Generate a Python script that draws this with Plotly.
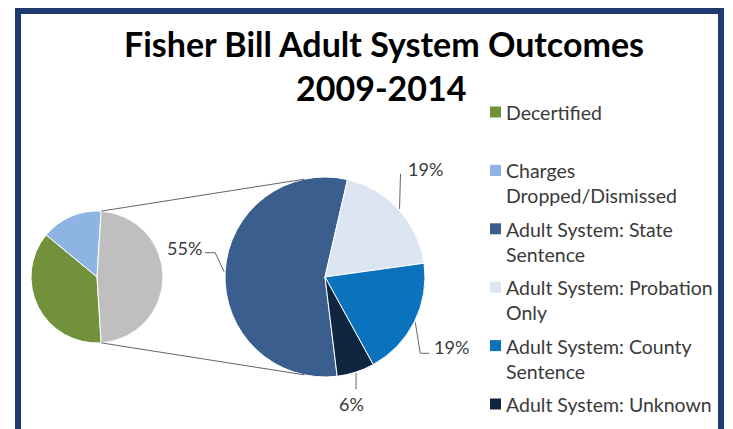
import math
import plotly.graph_objects as go

W, H = 733, 429

# Overall outcomes; the "Adult System" share is broken out in the second pie
primary_labels = ["Decertified", "Charges Dropped/Dismissed", "Adult System"]
primary_values = [37, 15, 48]
primary_colors = ["#71913A", "#8DB4E2", "#BFBFBF"]

# Breakdown of adult-system outcomes (percent)
adult_labels = ["Adult System: State Sentence", "Adult System: Probation Only",
                "Adult System: County Sentence", "Adult System: Unknown"]
adult_values = [55, 19, 19, 6]
adult_colors = ["#3A5F8F", "#DCE6F2", "#0B72BE", "#10253F"]

# Legend entries (wrapped as displayed) and their swatch colours
legend_texts = ["Decertified", "Charges<br>Dropped/Dismissed",
                "Adult System: State<br>Sentence", "Adult System: Probation<br>Only",
                "Adult System: County<br>Sentence", "Adult System: Unknown"]
legend_colors = primary_colors[:2] + adult_colors

title_lines = ["Fisher Bill Adult System Outcomes", "2009-2014"]

FONT = "Lato"
TEXT_GREY = "#3A3A3A"
LINE_GREY = "#666666"
NAVY = "#1F3A6E"


def px(x):
    return x / W


def py(y):
    return 1 - y / H


def domain(cx, cy, r):
    return dict(x=[px(cx - r), px(cx + r)], y=[py(cy + r), py(cy - r)])


def polar(cx, cy, r, deg):
    a = math.radians(deg)
    return cx + r * math.sin(a), cy - r * math.cos(a)


# pie placement (pixels)
C1, R1 = (97, 277), 66
C2, R2 = (325, 277), 100

# the aggregated slice is centred on 3 o'clock
other_span = 360 * primary_values[-1] / sum(primary_values)
primary_rotation = 90 + other_span / 2
adult_rotation = 173

fig = go.Figure()
fig.add_trace(go.Pie(
    labels=primary_labels, values=primary_values, sort=False,
    direction="clockwise", rotation=primary_rotation,
    marker=dict(colors=primary_colors, line=dict(color="white", width=1)),
    textinfo="none", hoverinfo="label+value", domain=domain(*C1, R1),
    showlegend=False,
))
fig.add_trace(go.Pie(
    labels=adult_labels, values=adult_values, sort=False,
    direction="clockwise", rotation=adult_rotation,
    marker=dict(colors=adult_colors, line=dict(color="white", width=1)),
    textinfo="none", hoverinfo="label+value", domain=domain(*C2, R2),
    showlegend=False,
))

shapes = []
annotations = []

# frame
shapes.append(dict(type="rect", xref="paper", yref="paper",
                   x0=px(18), x1=px(721), y0=py(445), y1=py(11),
                   line=dict(color=NAVY, width=6)))

# connector lines between the aggregated slice and the breakdown pie
a_top = 90 - other_span / 2
a_bot = 90 + other_span / 2
for a_small, a_big in ((a_top, -12), (a_bot, 192)):
    x0, y0 = polar(*C1, R1, a_small)
    x1, y1 = polar(*C2, R2, a_big)
    shapes.append(dict(type="line", xref="paper", yref="paper",
                       x0=px(x0), y0=py(y0), x1=px(x1), y1=py(y1),
                       line=dict(color=LINE_GREY, width=1)))

# percentage labels with leader lines
# per slice: leader path offsets from the slice edge, text offset, anchor
leader_style = [
    ([(-9, -19), (-19, -19)], (-20, -24), "right"),
    ([(1, -35)], (6, -40), "left"),
    ([(5, 31), (14, 31)], (17, 25), "left"),
    ([(0, 16)], (-5, 31), "center"),
]
total = sum(adult_values)
start = adult_rotation
for v, (path_offs, (tx, ty), anchor) in zip(adult_values, leader_style):
    span = 360 * v / total
    mid = start + span / 2
    start += span
    ex, ey = polar(*C2, R2 + 1, mid)
    pts = [(ex, ey)] + [(ex + dx, ey + dy) for dx, dy in path_offs]
    d = "M " + " L ".join(f"{px(x):.5f},{py(y):.5f}" for x, y in pts)
    shapes.append(dict(type="path", xref="paper", yref="paper", path=d,
                       line=dict(color=LINE_GREY, width=1)))
    annotations.append(dict(x=px(ex + tx), y=py(ey + ty), xref="paper", yref="paper",
                            text=f"{v}%", showarrow=False, xanchor=anchor,
                            yanchor="middle",
                            font=dict(family=FONT, size=18, color=TEXT_GREY)))

# title
for text, (tx, ty) in zip(title_lines, [(384, 43), (381, 88)]):
    annotations.append(dict(x=px(tx), y=py(ty), xref="paper", yref="paper",
                            text=f"<b>{text}</b>", showarrow=False,
                            xanchor="center", yanchor="middle",
                            font=dict(family=FONT, size=34, color="#000000")))

# legend
for i, (text, color) in enumerate(zip(legend_texts, legend_colors)):
    yc = 112 + i * 58.4
    shapes.append(dict(type="rect", xref="paper", yref="paper",
                       x0=px(490), x1=px(501), y0=py(yc + 5.5), y1=py(yc - 5.5),
                       fillcolor=color, line=dict(width=0)))
    annotations.append(dict(x=px(504), y=py(yc - 13), xref="paper", yref="paper",
                            text=text, showarrow=False, xanchor="left",
                            yanchor="top", align="left",
                            font=dict(family=FONT, size=19.5, color=TEXT_GREY)))

fig.update_layout(
    width=W, height=H,
    margin=dict(l=0, r=0, t=0, b=0),
    paper_bgcolor="white", plot_bgcolor="white",
    shapes=shapes, annotations=annotations,
    showlegend=False,
)

fig.write_html("out.html")
